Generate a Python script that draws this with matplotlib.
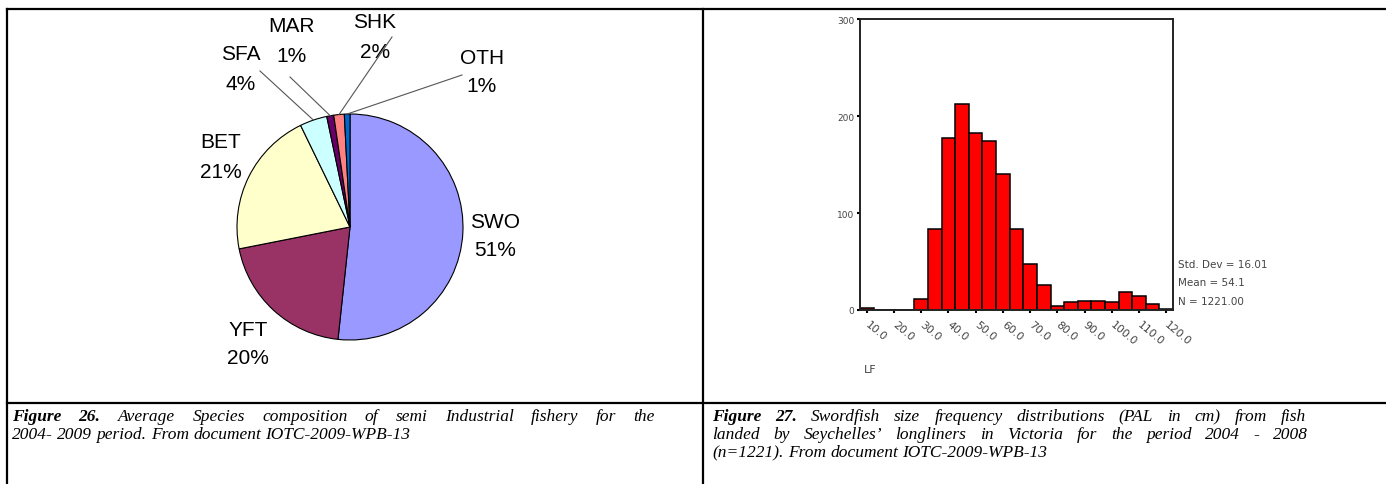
import matplotlib.pyplot as plt
import numpy as np

W, H = 1386, 485

# pie data (Figure 26)
species = ["SWO", "YFT", "BET", "SFA", "MAR", "SHK", "OTH"]
shares = [51.7, 20.2, 20.9, 3.9, 1.0, 1.5, 0.8]
share_labels = ["51%", "20%", "21%", "4%", "1%", "2%", "1%"]
pie_colors = ["#9999FF", "#993366", "#FFFFCC", "#CCFFFF", "#660066", "#FF8080", "#0066CC"]

# histogram data (Figure 27), bin centres in cm, width 5
lf_bins = [10, 15, 20, 25, 30, 35, 40, 45, 50, 55, 60, 65, 70, 75, 80, 85, 90, 95, 100, 105, 110, 115, 120]
lf_counts = [2, 0, 0, 0, 11, 84, 177, 212, 182, 174, 140, 84, 47, 26, 4, 8, 9, 9, 8, 19, 14, 6, 1]
lf_ticks = [10, 20, 30, 40, 50, 60, 70, 80, 90, 100, 110, 120]
stats_lines = ["Std. Dev = 16.01", "Mean = 54.1", "N = 1221.00"]

cap26 = ["Figure 26. Average Species composition of semi Industrial fishery for the",
         "2004- 2009 period. From document IOTC-2009-WPB-13"]
cap27 = ["Figure 27.  Swordfish size frequency distributions (PAL in cm) from fish",
         "landed by Seychelles\u2019 longliners in Victoria for the period 2004 - 2008",
         "(n=1221).  From document IOTC-2009-WPB-13"]

fig = plt.figure(figsize=(W / 100, H / 100), dpi=100)

# background axes in pixel coordinates (y up)
bg = fig.add_axes([0, 0, 1, 1])

def py(y):
    return H - y

# --- pie ---
cx, cy, r = 350, py(228), 113
wedges, _ = bg.pie(shares, colors=pie_colors, startangle=90, counterclock=False,
                   center=(cx, cy), radius=r, frame=True,
                   wedgeprops=dict(edgecolor="black", linewidth=0.8))
bg.set_xlim(0, W)
bg.set_ylim(0, H)
bg.set_aspect("auto")
bg.axis("off")

# table frame
lw_frame = 1.6
bg.plot([7, W], [py(10), py(10)], color="black", lw=lw_frame)
bg.plot([7, 7], [py(10), py(H)], color="black", lw=lw_frame)
bg.plot([703, 703], [py(10), py(H)], color="black", lw=lw_frame)
bg.plot([7, W], [py(404), py(404)], color="black", lw=lw_frame)

label_pos = {
    "SWO": (495, 222), "YFT": (248, 330), "BET": (221, 143),
    "SFA": (241, 55), "MAR": (291, 27), "SHK": (375, 23), "OTH": (482, 58),
}
line_start = {"SFA": (260, 72), "MAR": (290, 78), "SHK": (392, 38), "OTH": (462, 76)}
lab_font = dict(family="Liberation Sans", fontsize=15, color="black")
for w, name, pct in zip(wedges, species, share_labels):
    lx, ly = label_pos[name]
    bg.text(lx, py(ly), name, ha="center", va="center", **lab_font)
    bg.text(lx, py(ly + 29), pct, ha="center", va="center", **lab_font)
    if name in line_start:
        ang = np.deg2rad((w.theta1 + w.theta2) / 2)
        ex, ey = cx + r * np.cos(ang), cy + r * np.sin(ang)
        sx, sy = line_start[name]
        bg.plot([sx, ex], [py(sy), ey], color="#555555", lw=0.8)

# --- histogram ---
gray = "#444444"
ax = fig.add_axes([860 / W, (H - 311) / H, 313 / W, 291 / H])
ax.bar(lf_bins, lf_counts, width=5, color="#FF0000", edgecolor="black", linewidth=1.1)
ax.set_xlim(7.5, 122.5)
ax.set_ylim(0, 300)
ax.set_yticks([0, 100, 200, 300])
ax.set_xticks(lf_ticks)
ax.set_xticklabels([f"{t:.1f}" for t in lf_ticks], rotation=-40, ha="left", va="center",
                   rotation_mode="anchor", fontsize=7.8, color=gray)
ax.tick_params(axis="y", labelsize=6.5, labelcolor=gray, length=2, width=1.5, pad=2)
ax.tick_params(axis="x", length=2, width=1.5, pad=7)
for s in ax.spines.values():
    s.set_linewidth(1.4)
    s.set_color("#222222")

for i, line in enumerate(stats_lines):
    fig.text(1178 / W, (H - 265 - 18.5 * i) / H, line, fontsize=7.5, color=gray,
             ha="left", va="center")
fig.text(870 / W, (H - 370) / H, "LF", fontsize=8, color=gray, ha="center", va="center")

# --- captions (justified first lines, like the Word table) ---
cap = dict(family="Liberation Serif", fontsize=12.5, style="italic")
renderer = fig.canvas.get_renderer()

def text_width(s, **kw):
    t = bg.text(0, 0, s, **kw)
    wdt = t.get_window_extent(renderer).width
    t.remove()
    return wdt

space_w = text_width("a a", **cap) - 2 * text_width("a", **cap)

def caption_line(x0, y, text, n_bold=0, x1=None):
    words = [w for w in text.split(" ") if w]
    arts = []
    for k, wd in enumerate(words):
        arts.append(bg.text(0, py(y), wd, ha="left", va="baseline",
                            fontweight="bold" if k < n_bold else "normal", **cap))
    widths = [a.get_window_extent(renderer).width for a in arts]
    gap = space_w if x1 is None else (x1 - x0 - sum(widths)) / (len(words) - 1)
    x = x0
    for a, wdt in zip(arts, widths):
        a.set_x(x)
        x += wdt + gap

caption_line(12, 421, cap26[0], n_bold=2, x1=655)
caption_line(12, 439, cap26[1])
caption_line(712, 421, cap27[0], n_bold=2, x1=1306)
caption_line(712, 439, cap27[1], x1=1308)
caption_line(712, 457, cap27[2])

fig.savefig("out.png", dpi=100)
